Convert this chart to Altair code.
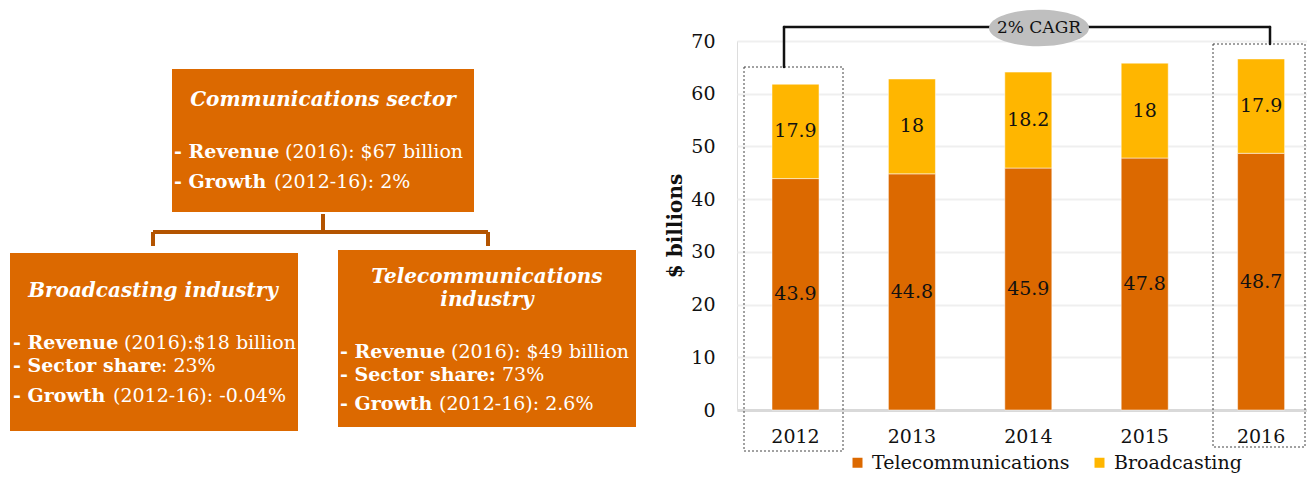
import altair as alt
import pandas as pd

FONT = "DejaVu Serif"
ORANGE = "#DC6900"
YELLOW = "#FFB600"
BROWN = "#B35400"

# ---------------- data ----------------
years = ["2012", "2013", "2014", "2015", "2016"]
telecom = [43.9, 44.8, 45.9, 47.8, 48.7]
broadcast = [17.9, 18.0, 18.2, 18.0, 17.9]
series_names = ["Telecommunications", "Broadcasting"]
y_ticks = [0, 10, 20, 30, 40, 50, 60, 70]
cagr_label = "2% CAGR"
y_title = "$ billions"

top_title = ["Communications sector"]
top_bold = ["- Revenue", "- Growth"]
top_norm = ["(2016): $67 billion", "(2012-16): 2%"]
bl_title = ["Broadcasting industry"]
bl_bold = ["- Revenue", "- Sector share", "- Growth"]
bl_norm = ["(2016):$18 billion", ": 23%", "(2012-16): -0.04%"]
br_title = ["Telecommunications", "industry"]
br_bold = ["- Revenue", "- Sector share:", "- Growth"]
br_norm = ["(2016): $49 billion", "73%", "(2012-16): 2.6%"]

rows = []
for i, y in enumerate(years):
    rows.append({"year": y, "series": series_names[0], "value": telecom[i], "ord": 0})
    rows.append({"year": y, "series": series_names[1], "value": broadcast[i], "ord": 1})
df = pd.DataFrame(rows)

# ---------------- layout (page px -> plot px) ----------------
OX, OY = 737, 41
W, H = 570, 369


def px(x):
    return x - OX


def py(y):
    return y - OY


one = pd.DataFrame({"a": [0]})

xscale = alt.Scale(paddingInner=0.596, paddingOuter=0.2465, align=0.61)
yscale = alt.Scale(domain=[0, 70], nice=False)

bars = alt.Chart(df).mark_bar(stroke="white", strokeWidth=0.5).encode(
    x=alt.X("year:N", scale=xscale, sort=years,
            axis=alt.Axis(title=None, labelAngle=0, ticks=False, labelPadding=17,
                          domainColor="#d9d9d9", domainWidth=3, labelFontSize=19,
                          labelFont=FONT, labelColor="#111")),
    y=alt.Y("value:Q", stack="zero", scale=yscale,
            axis=alt.Axis(values=y_ticks, title=y_title, ticks=False, tickSize=0,
                          domain=False, labelPadding=22, labelFontSize=19,
                          labelFont=FONT, labelColor="#111",
                          gridColor="#efefef", gridWidth=2,
                          titleFont=FONT, titleFontSize=20, titleFontWeight="bold",
                          titleColor="#111", titleAngle=-90, titleX=px(675),
                          titleY=H / 2, titleAlign="center", titleBaseline="middle")),
    color=alt.Color("series:N", scale=alt.Scale(domain=series_names, range=[ORANGE, YELLOW]),
                    legend=alt.Legend(title=None, orient="none", direction="horizontal",
                                      legendX=px(848), legendY=py(453), symbolType="square",
                                      symbolSize=100, symbolStrokeWidth=0, labelFont=FONT,
                                      labelFontSize=19, labelColor="#111", labelOffset=5,
                                      labelLimit=400, columnPadding=20, padding=0)),
    order=alt.Order("ord:Q"),
)

labels = alt.Chart(df).transform_stack(
    stack="value", groupby=["year"], as_=["v0", "v1"],
    sort=[alt.SortField("ord", order="ascending")]
).transform_calculate(mid="(datum.v0 + datum.v1) / 2").mark_text(
    font=FONT, fontSize=19, color="#111", baseline="middle"
).encode(
    x=alt.X("year:N", scale=xscale, sort=years),
    y=alt.Y("mid:Q", scale=yscale, title=y_title),
    text=alt.Text("value:Q", format="~g"),
)

layers = [bars, labels]

# dashed highlight boxes
for (x1, x2, y1, y2) in [(744, 843, 67, 451), (1213, 1305, 44, 447)]:
    layers.append(alt.Chart(one).mark_rect(fillOpacity=0, stroke="#444", strokeWidth=1,
                                           strokeDash=[2, 2]).encode(
        x=alt.value(px(x1)), x2=alt.value(px(x2)), y=alt.value(py(y1)), y2=alt.value(py(y2))))

# CAGR bracket
for (x1, y1, x2, y2) in [(784, 67, 784, 27), (784, 27, 1270, 27), (1270, 27, 1270, 44)]:
    layers.append(alt.Chart(one).mark_rule(color="#111", strokeWidth=2.5, strokeCap="round").encode(
        x=alt.value(px(x1)), y=alt.value(py(y1)), x2=alt.value(px(x2)), y2=alt.value(py(y2))))

ellipse = "M-1,0A1,0.364,0,1,0,1,0A1,0.364,0,1,0,-1,0Z"
layers.append(alt.Chart(one).mark_point(shape=ellipse, size=100 * 100, filled=True,
                                        color="#bfbfbf", opacity=1).encode(
    x=alt.value(px(1039)), y=alt.value(py(28))))
layers.append(alt.Chart(pd.DataFrame({"t": [cagr_label]})).mark_text(
    font=FONT, fontSize=17, color="#111", baseline="middle", align="center").encode(
    x=alt.value(px(1039)), y=alt.value(py(28)), text="t:N"))

# ---------------- diagram ----------------
for (x1, x2, y1, y2) in [(172, 474, 69, 212), (10, 298, 253, 431), (338, 636, 250, 427)]:
    layers.append(alt.Chart(one).mark_rect(color=ORANGE).encode(
        x=alt.value(px(x1)), x2=alt.value(px(x2)), y=alt.value(py(y1)), y2=alt.value(py(y2))))

for (x1, y1, x2, y2) in [(323, 214, 323, 232), (153, 232, 488, 232), (153, 232, 153, 246),
                         (488, 232, 488, 246)]:
    layers.append(alt.Chart(one).mark_rule(color=BROWN, strokeWidth=4).encode(
        x=alt.value(px(x1)), y=alt.value(py(y1)), x2=alt.value(px(x2)), y2=alt.value(py(y2))))


def txt(s, x, y, weight="normal", style="normal", align="left", size=19):
    return alt.Chart(pd.DataFrame({"t": [s]})).mark_text(
        font=FONT, fontSize=size, color="white", fontWeight=weight, fontStyle=style,
        align=align, baseline="middle").encode(
        x=alt.value(px(x)), y=alt.value(py(y)), text="t:N")


# titles
layers.append(txt(top_title[0], 323, 100, "bold", "italic", "center", 20))
layers.append(txt(bl_title[0], 153, 291, "bold", "italic", "center", 20))
layers.append(txt(br_title[0], 487, 277, "bold", "italic", "center", 20))
layers.append(txt(br_title[1], 487, 300, "bold", "italic", "center", 20))

# bullet lines: (bold x, normal x, y)
top_pos = [(174, 285, 152), (174, 274, 182)]
bl_pos = [(13, 124, 343), (13, 161, 366), (13, 113, 396)]
br_pos = [(340, 451, 352), (340, 502, 375), (340, 439, 404)]
for bolds, norms, pos in [(top_bold, top_norm, top_pos), (bl_bold, bl_norm, bl_pos),
                          (br_bold, br_norm, br_pos)]:
    for b, n, (xb, xn, yy) in zip(bolds, norms, pos):
        layers.append(txt(b, xb, yy, "bold"))
        layers.append(txt(n, xn, yy))

chart = alt.layer(*layers).properties(
    width=W, height=H,
    autosize=alt.AutoSizeParams(type="none"),
    padding={"left": OX - 8, "top": OY - 8, "right": 0, "bottom": 481 - 8 - 8 - (OY - 8) - H},
).configure_view(strokeWidth=0).configure(background="white")

chart.save("out.html", embed_options={"renderer": "svg", "actions": False})
